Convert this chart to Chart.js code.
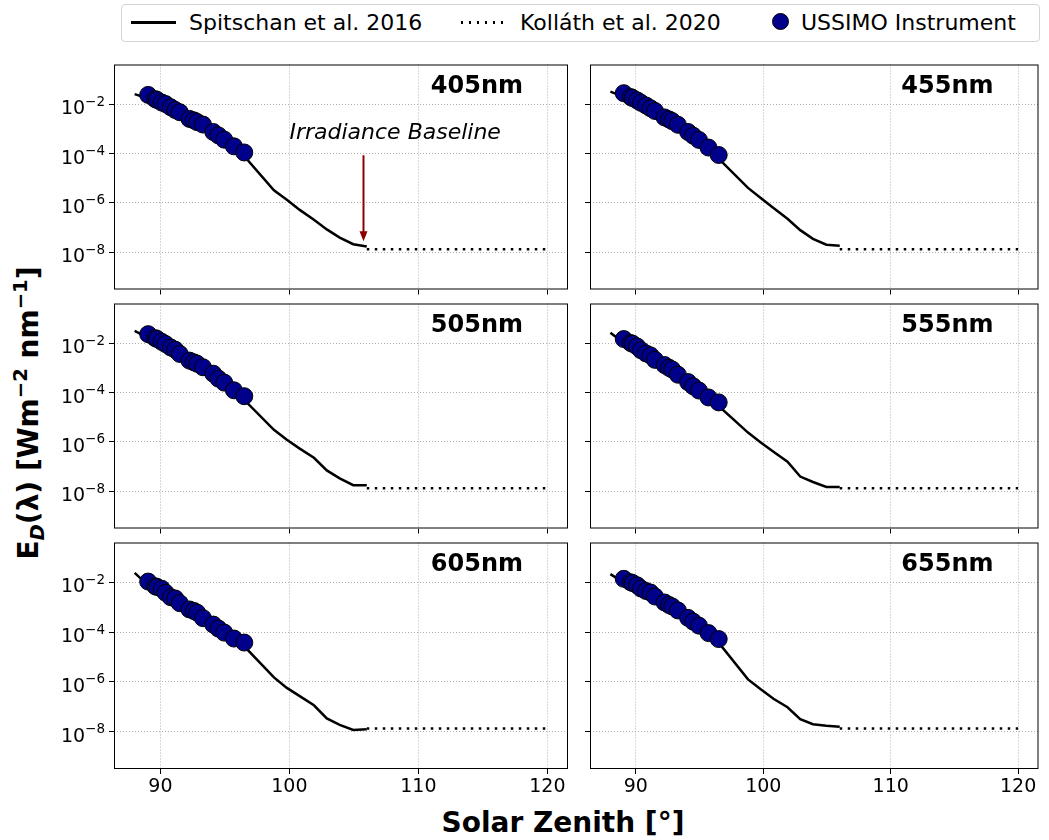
<!DOCTYPE html>
<html>
<head>
<meta charset="utf-8">
<script src="https://cdn.jsdelivr.net/npm/chart.js@4.4.1/dist/chart.umd.min.js"></script>
<style>
  body { margin: 0; background: #fff; width: 1049px; height: 840px; position: relative; overflow: hidden; font-family: 'DejaVu Sans', sans-serif; color: #000; }
  canvas.panel { position: absolute; }
  #legend { position: absolute; left: 121px; top: 4px; width: 919px; height: 38px; border: 1px solid #d4d4d4; border-radius: 4px; box-sizing: border-box; font-size: 22px; }
  #legend .item { position: absolute; top: 0; height: 36px; line-height: 36px; white-space: nowrap; }
  #legend .sym { position: absolute; }
  #ylabel { position: absolute; left: 28px; top: 413px; transform: translate(-50%, -50%) rotate(-90deg); white-space: nowrap; font-weight: bold; font-size: 28px; }
  #ylabel sub, #ylabel sup { font-size: 0.7em; line-height: 0; }
  #xlabel { position: absolute; left: 563px; top: 822px; transform: translate(-50%, -50%); white-space: nowrap; font-weight: bold; font-size: 28px; }
</style>
</head>
<body>
<div id="legend">
  <div class="sym" style="left:9px; top:16px; width:45px; height:2.5px; background:#000;"></div>
  <div class="item" style="left:67px;">Spitschan et al. 2016</div>
  <div class="sym" style="left:339px; top:16px; width:45px; height:2.5px; background:repeating-linear-gradient(90deg, #000 0 2.5px, transparent 2.5px 8px);"></div>
  <div class="item" style="left:398px;">Kolláth et al. 2020</div>
  <div class="sym" style="left:650px; top:8px; width:17px; height:17px; border-radius:50%; background:#00008b; border:1px solid #000; box-sizing:border-box;"></div>
  <div class="item" style="left:679px;">USSIMO Instrument</div>
</div>
<div id="ylabel">E<sub><i>D</i></sub>(λ) [Wm<sup>−2</sup> nm<sup>−1</sup>]</div>
<div id="xlabel">Solar Zenith [°]</div>

<canvas id="p0" class="panel" style="left:44px; top:55px;" width="534" height="244"></canvas>
<canvas id="p1" class="panel" style="left:578px; top:55px;" width="470" height="244"></canvas>
<canvas id="p2" class="panel" style="left:44px; top:294px;" width="534" height="244"></canvas>
<canvas id="p3" class="panel" style="left:578px; top:294px;" width="470" height="244"></canvas>
<canvas id="p4" class="panel" style="left:44px; top:533px;" width="534" height="276"></canvas>
<canvas id="p5" class="panel" style="left:578px; top:533px;" width="470" height="276"></canvas>

<script>
// Panel names
const wavelengths = ['405nm', '455nm', '505nm', '555nm', '605nm', '655nm'];

// Spitschan et al. 2016 model, solar zenith [deg]
const spitschanZenith = [88, 89.05, 90.1, 91.15, 92.25, 93.3, 94.1, 94.95, 96.5, 98.8, 99.8, 100.8, 101.9, 102.9, 103.9, 104.95, 106];
const spitschan405 = [2.51e-2, 1.66e-2, 8.13e-3, 4.07e-3, 1.78e-3, 1.05e-3, 5.25e-4, 2.57e-4, 7.76e-5, 3.24e-6, 1.35e-6, 5.25e-7, 2.09e-7, 8.51e-8, 3.98e-8, 2.14e-8, 1.74e-8];
const spitschan455 = [3.16e-2, 1.95e-2, 1.0e-2, 4.79e-3, 2.04e-3, 1.02e-3, 5.25e-4, 2.51e-4, 6.17e-5, 4.07e-6, 1.58e-6, 6.31e-7, 2.29e-7, 7.94e-8, 3.55e-8, 2.04e-8, 1.86e-8];
const spitschan505 = [3.09e-2, 1.62e-2, 7.94e-3, 3.80e-3, 1.38e-3, 7.41e-4, 4.07e-4, 1.78e-4, 5.01e-5, 3.09e-6, 1.23e-6, 5.37e-7, 2.29e-7, 7.08e-8, 3.39e-8, 1.78e-8, 1.78e-8];
const spitschan555 = [2.63e-2, 1.02e-2, 5.13e-3, 2.24e-3, 9.12e-4, 3.72e-4, 1.86e-4, 8.51e-5, 2.82e-5, 2.40e-6, 9.55e-7, 3.98e-7, 1.58e-7, 3.98e-8, 2.40e-8, 1.51e-8, 1.51e-8];
const spitschan605 = [2.40e-2, 7.59e-3, 3.89e-3, 1.58e-3, 5.75e-4, 2.57e-4, 1.41e-4, 6.76e-5, 2.69e-5, 1.51e-6, 5.75e-7, 2.69e-7, 1.15e-7, 3.39e-8, 1.86e-8, 1.17e-8, 1.26e-8];
const spitschan655 = [2.14e-2, 9.77e-3, 5.37e-3, 2.75e-3, 1.10e-3, 5.25e-4, 2.63e-4, 1.29e-4, 3.72e-5, 1.26e-6, 5.01e-7, 2.09e-7, 9.55e-8, 3.16e-8, 2.0e-8, 1.74e-8, 1.58e-8];

// Kolláth et al. 2020 baseline
const kollathZenith = [106, 120];
const kollathIrr = [1.35e-8, 1.35e-8];

// USSIMO instrument measurements
const ussimoZenith = [89.05, 89.6, 89.75, 90.1, 90.4, 90.8, 91.15, 91.5, 92.25, 92.6, 92.85, 93.3, 94.1, 94.5, 94.95, 95.7, 96.5];
const ussimo405 = [2.34e-2, 1.58e-2, 1.45e-2, 1.15e-2, 1.0e-2, 7.41e-3, 5.75e-3, 4.68e-3, 2.51e-3, 2.19e-3, 1.86e-3, 1.48e-3, 7.41e-4, 5.37e-4, 3.63e-4, 1.95e-4, 1.10e-4];
const ussimo455 = [2.75e-2, 1.91e-2, 1.74e-2, 1.41e-2, 1.12e-2, 8.71e-3, 6.76e-3, 5.25e-3, 2.88e-3, 2.40e-3, 2.04e-3, 1.45e-3, 7.41e-4, 5.25e-4, 3.55e-4, 1.74e-4, 8.71e-5];
const ussimo505 = [2.29e-2, 1.58e-2, 1.45e-2, 1.12e-2, 9.12e-3, 6.61e-3, 5.37e-3, 3.63e-3, 1.95e-3, 1.66e-3, 1.45e-3, 1.05e-3, 5.75e-4, 3.63e-4, 2.51e-4, 1.23e-4, 7.08e-5];
const ussimo555 = [1.45e-2, 1.0e-2, 9.33e-3, 7.24e-3, 5.13e-3, 3.80e-3, 3.16e-3, 2.09e-3, 1.29e-3, 1.0e-3, 8.51e-4, 5.25e-4, 2.63e-4, 1.78e-4, 1.20e-4, 6.31e-5, 3.98e-5];
const ussimo605 = [1.07e-2, 6.92e-3, 6.46e-3, 5.50e-3, 3.80e-3, 2.51e-3, 2.24e-3, 1.45e-3, 8.13e-4, 7.08e-4, 6.03e-4, 3.63e-4, 2.0e-4, 1.38e-4, 9.55e-5, 5.50e-5, 3.80e-5];
const ussimo655 = [1.38e-2, 1.0e-2, 9.33e-3, 7.59e-3, 5.62e-3, 4.47e-3, 3.89e-3, 2.69e-3, 1.55e-3, 1.23e-3, 1.07e-3, 7.41e-4, 3.72e-4, 2.63e-4, 1.82e-4, 9.12e-5, 5.25e-5];

// Axes
const xTicks = [90, 100, 110, 120];
const xTickLabels = ['90', '100', '110', '120'];
const yTicks = [1e-2, 1e-4, 1e-6, 1e-8];
const yTickBase = '10';
const yTickExps = ['−2', '−4', '−6', '−8'];

// Irradiance baseline annotation (first panel)
const arrowZenith = 105.7;
const arrowFrom = 8.5e-5;
const arrowTo = 2.8e-8;
const noteZenith = 108.2;
const noteIrr = 6.5e-4;

const spitschanSets = [spitschan405, spitschan455, spitschan505, spitschan555, spitschan605, spitschan655];
const ussimoSets = [ussimo405, ussimo455, ussimo505, ussimo555, ussimo605, ussimo655];

Chart.defaults.font.family = "'DejaVu Sans', sans-serif";
Chart.defaults.color = '#000';

const toPoints = (xs, ys) => xs.map((x, i) => ({ x: x, y: ys[i] }));

// Frame, y tick labels (10 with superscript), wavelength label and annotation
const panelDecor = {
    id: 'panelDecor',
    afterDraw(chart, args, opts) {
        const ctx = chart.ctx;
        const a = chart.chartArea;
        ctx.save();
        ctx.setLineDash([]);
        ctx.strokeStyle = '#000';
        ctx.lineWidth = 1;
        ctx.strokeRect(a.left + 0.5, a.top + 0.5, a.right - a.left - 1, a.bottom - a.top - 1);

        ctx.fillStyle = '#000';
        if (opts.yLabels) {
            const ys = chart.scales.y;
            ctx.textBaseline = 'alphabetic';
            ctx.textAlign = 'left';
            yTicks.forEach((v, k) => {
                const py = ys.getPixelForValue(v);
                ctx.font = "19px 'DejaVu Sans'";
                const wBase = ctx.measureText(yTickBase).width;
                ctx.font = "13.5px 'DejaVu Sans'";
                const wExp = ctx.measureText(yTickExps[k]).width;
                const x0 = a.left - 9 - wBase - wExp;
                ctx.font = "19px 'DejaVu Sans'";
                ctx.fillText(yTickBase, x0, py + 10);
                ctx.font = "13.5px 'DejaVu Sans'";
                ctx.fillText(yTickExps[k], x0 + wBase, py + 1.5);
            });
        }

        ctx.font = "bold 24px 'DejaVu Sans'";
        ctx.textAlign = 'right';
        ctx.textBaseline = 'middle';
        ctx.fillText(opts.label, a.right - 45, a.top + 22);

        if (opts.annotate) {
            const xs = chart.scales.x, ys = chart.scales.y;
            const ax = Math.round(xs.getPixelForValue(arrowZenith)) + 0.5;
            const y0 = ys.getPixelForValue(arrowFrom);
            const y1 = ys.getPixelForValue(arrowTo);
            ctx.strokeStyle = '#8b0000';
            ctx.fillStyle = '#8b0000';
            ctx.lineWidth = 2;
            ctx.beginPath();
            ctx.moveTo(ax, y0);
            ctx.lineTo(ax, y1 - 8);
            ctx.stroke();
            ctx.beginPath();
            ctx.moveTo(ax - 4, y1 - 10);
            ctx.lineTo(ax + 4, y1 - 10);
            ctx.lineTo(ax, y1);
            ctx.closePath();
            ctx.fill();

            ctx.fillStyle = '#000';
            ctx.font = "italic 22px 'DejaVu Sans'";
            ctx.textAlign = 'center';
            ctx.fillText('Irradiance Baseline', xs.getPixelForValue(noteZenith), ys.getPixelForValue(noteIrr));
        }
        ctx.restore();
    }
};

function buildPanel(i) {
    const leftCol = i % 2 === 0;
    const bottomRow = i >= 4;
    const ctx = document.getElementById('p' + i);

    const gridStyle = {
        color: '#b0b0b0',
        lineWidth: 1,
        drawTicks: true,
        tickLength: 5,
        tickColor: '#000',
        tickWidth: 1,
        tickBorderDash: []
    };

    const config = {
        type: 'scatter',
        data: {
            datasets: [
                {
                    label: 'USSIMO Instrument',
                    data: toPoints(ussimoZenith, ussimoSets[i]),
                    pointRadius: 8.5,
                    pointBackgroundColor: '#00008b',
                    pointBorderColor: '#000',
                    pointBorderWidth: 1,
                    showLine: false
                },
                {
                    label: 'Spitschan et al. 2016',
                    data: toPoints(spitschanZenith, spitschanSets[i]),
                    showLine: true,
                    borderColor: '#000',
                    borderWidth: 2.5,
                    pointRadius: 0,
                    tension: 0
                },
                {
                    label: 'Kolláth et al. 2020',
                    data: toPoints(kollathZenith, kollathIrr),
                    showLine: true,
                    borderColor: '#000',
                    borderWidth: 2.5,
                    borderDash: [2.5, 5.5],
                    pointRadius: 0,
                    tension: 0
                }
            ]
        },
        options: {
            responsive: false,
            animation: false,
            devicePixelRatio: 1,
            layout: {
                padding: { top: 8, right: leftCol ? 10 : 4, left: 0, bottom: 0 }
            },
            plugins: {
                legend: { display: false },
                tooltip: { enabled: false },
                panelDecor: { label: wavelengths[i], annotate: i === 0, yLabels: leftCol }
            },
            scales: {
                x: {
                    type: 'linear',
                    min: 86.4,
                    max: 121.6,
                    afterBuildTicks: function(scale) {
                        scale.ticks = xTicks.map(v => ({ value: v }));
                    },
                    afterFit: function(scale) {
                        scale.height = bottomRow ? 40 : 8;
                        scale.paddingLeft = 0;
                        scale.paddingRight = 0;
                    },
                    ticks: {
                        autoSkip: false,
                        maxRotation: 0,
                        padding: 2,
                        font: { size: 19 },
                        callback: function(value, index) {
                            return bottomRow ? xTickLabels[index] : '';
                        }
                    },
                    grid: gridStyle,
                    border: { display: false, dash: [1, 2] }
                },
                y: {
                    type: 'logarithmic',
                    min: 3.16e-10,
                    max: 0.398,
                    afterBuildTicks: function(scale) {
                        scale.ticks = yTicks.map(v => ({ value: v }));
                    },
                    afterFit: function(scale) {
                        scale.width = leftCol ? 70 : 12;
                        scale.paddingTop = 0;
                        scale.paddingBottom = 0;
                    },
                    ticks: {
                        autoSkip: false,
                        padding: 3,
                        callback: function() {
                            return '';
                        }
                    },
                    grid: gridStyle,
                    border: { display: false, dash: [1, 2] }
                }
            }
        },
        plugins: [panelDecor]
    };

    new Chart(ctx, config);
}

for (let i = 0; i < 6; i++) {
    buildPanel(i);
}
</script>
</body>
</html>
